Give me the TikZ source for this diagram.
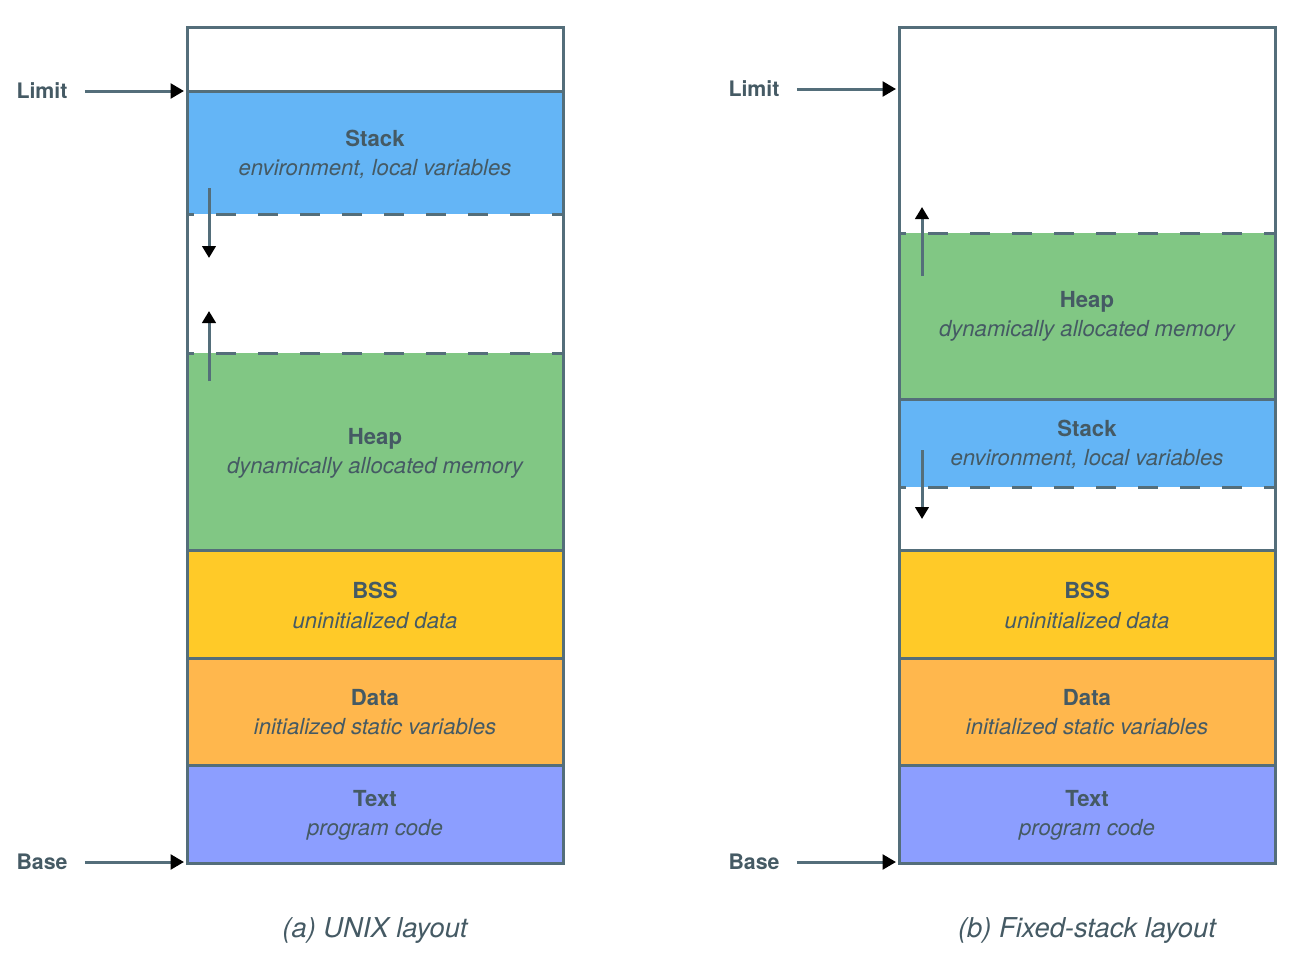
\documentclass[tikz,border=0pt]{standalone}
\usepackage{fontspec}
\setmainfont{TeX Gyre Heros}
\usetikzlibrary{arrows.meta}
\definecolor{edge}{HTML}{546E7A}
\definecolor{ink}{HTML}{455A64}
\definecolor{stackc}{HTML}{64B5F6}
\definecolor{heapc}{HTML}{81C784}
\definecolor{bssc}{HTML}{FFCA28}
\definecolor{datac}{HTML}{FFB74D}
\definecolor{textc}{HTML}{8C9EFF}
\begin{document}
\begin{tikzpicture}[x=0.75pt,y=-0.75pt,
  ttl/.style={font=\fontsize{16.6}{18}\selectfont\bfseries, text=ink, inner sep=0pt, text height=12pt, text depth=0pt},
  sub/.style={font=\fontsize{16.6}{18}\selectfont\itshape, text=ink, inner sep=0pt, text height=12pt, text depth=0pt},
  side/.style={font=\fontsize{16}{18}\selectfont\bfseries, text=ink, inner sep=0pt},
  captext/.style={font=\fontsize{20.5}{22}\selectfont\itshape, text=ink, inner sep=0pt, text height=15pt, text depth=0pt},
  border/.style={draw=edge, line width=2.25pt},
  sep/.style={draw=edge, line width=2.25pt},
  dsep/.style={draw=edge, line width=2.25pt, dash pattern=on 15pt off 16.5pt, dash phase=9.75pt},
  ptr/.style={draw=edge, line width=2.25pt, -{Triangle[length=10pt,width=11pt,color=black]}, shorten <=12.75pt},
  growarrow/.style={draw=edge, line width=2.25pt, -{Triangle[length=9pt,width=10pt,color=black]}}]
\useasboundingbox (0,0) rectangle (1306,960);

% ---------- (a) UNIX layout ----------
\fill[stackc] (187,91) rectangle (563,214);
\fill[heapc] (187,353) rectangle (563,550);
\fill[bssc] (187,550) rectangle (563,658);
\fill[datac] (187,658) rectangle (563,765);
\fill[textc] (187,765) rectangle (563,863);
\draw[sep] (187,91) -- (563,91);
\draw[sep] (187,550) -- (563,550);
\draw[sep] (187,658) -- (563,658);
\draw[sep] (187,765) -- (563,765);
\draw[dsep] (187,214) -- (563,214);
\draw[dsep] (187,353) -- (563,353);
\draw[border] (187,27) rectangle (563,863);

\node[ttl] (lstackT) at (375,138) {Stack};
\node[sub] (lstackS) at (375,167) {environment, local variables};
\node[ttl] (lheapT) at (375,436) {Heap};
\node[sub] (lheapS) at (375,465) {dynamically allocated memory};
\node[ttl] (lbssT) at (375,590) {BSS};
\node[sub] (lbssS) at (375,620) {uninitialized data};
\node[ttl] (ldataT) at (375,697) {Data};
\node[sub] (ldataS) at (375,726) {initialized static variables};
\node[ttl] (ltextT) at (375,798) {Text};
\node[sub] (ltextS) at (375,827) {program code};

\coordinate (lsg1) at (209,188);
\coordinate (lsg2) at (209,258);
\draw[growarrow] (lsg1) -- (lsg2);
\coordinate (lhg1) at (209,381);
\coordinate (lhg2) at (209,311);
\draw[growarrow] (lhg1) -- (lhg2);

\node[side] (llimit) at (42,91) {Limit};
\coordinate (llimitP) at (184,91);
\draw[ptr] (llimit.east) -- (llimitP);
\node[side] (lbase) at (42,862) {Base};
\coordinate (lbaseP) at (184,862);
\draw[ptr] (lbase.east) -- (lbaseP);

\node[captext] (lcap) at (375,927) {(a) UNIX layout};

% ---------- (b) Fixed-stack layout ----------
\fill[heapc] (899,233) rectangle (1275,399);
\fill[stackc] (899,399) rectangle (1275,487);
\fill[bssc] (899,550) rectangle (1275,658);
\fill[datac] (899,658) rectangle (1275,765);
\fill[textc] (899,765) rectangle (1275,863);
\draw[sep] (899,399) -- (1275,399);
\draw[sep] (899,550) -- (1275,550);
\draw[sep] (899,658) -- (1275,658);
\draw[sep] (899,765) -- (1275,765);
\draw[dsep] (899,233) -- (1275,233);
\draw[dsep] (899,487) -- (1275,487);
\draw[border] (899,27) rectangle (1275,863);

\node[ttl] (rheapT) at (1087,299) {Heap};
\node[sub] (rheapS) at (1087,328) {dynamically allocated memory};
\node[ttl] (rstackT) at (1087,428) {Stack};
\node[sub] (rstackS) at (1087,457) {environment, local variables};
\node[ttl] (rbssT) at (1087,590) {BSS};
\node[sub] (rbssS) at (1087,620) {uninitialized data};
\node[ttl] (rdataT) at (1087,697) {Data};
\node[sub] (rdataS) at (1087,726) {initialized static variables};
\node[ttl] (rtextT) at (1087,798) {Text};
\node[sub] (rtextS) at (1087,827) {program code};

\coordinate (rhg1) at (922,276);
\coordinate (rhg2) at (922,207);
\draw[growarrow] (rhg1) -- (rhg2);
\coordinate (rsg1) at (922,450);
\coordinate (rsg2) at (922,519);
\draw[growarrow] (rsg1) -- (rsg2);

\node[side] (rlimit) at (754,89) {Limit};
\coordinate (rlimitP) at (896,89);
\draw[ptr] (rlimit.east) -- (rlimitP);
\node[side] (rbase) at (754,862) {Base};
\coordinate (rbaseP) at (896,862);
\draw[ptr] (rbase.east) -- (rbaseP);

\node[captext] (rcap) at (1087,927) {(b) Fixed-stack layout};
\end{tikzpicture}
\end{document}
